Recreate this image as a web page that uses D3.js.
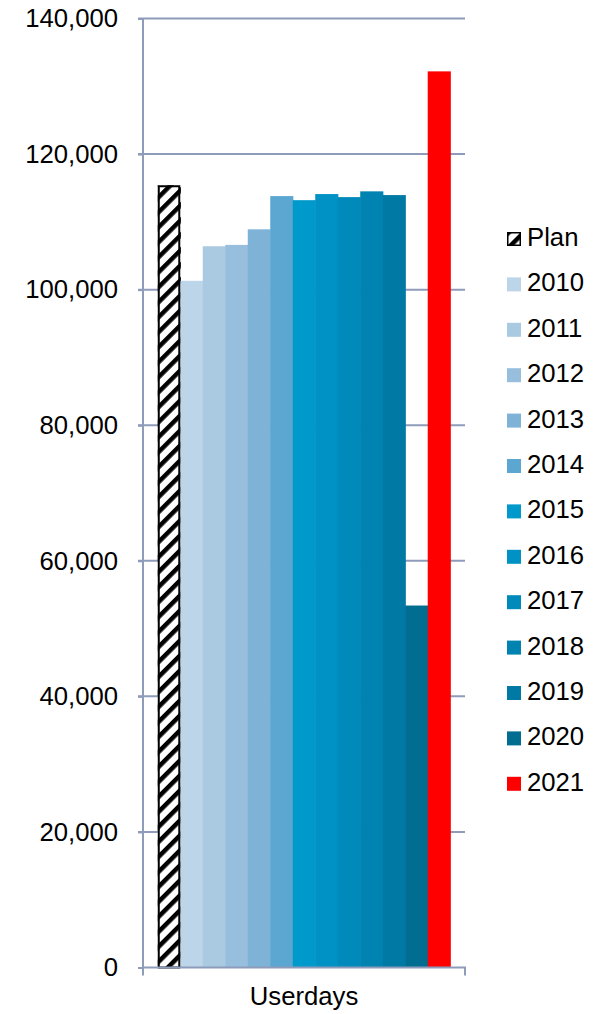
<!DOCTYPE html>
<html><head><meta charset="utf-8">
<script src="https://cdn.jsdelivr.net/npm/d3@7"></script>
<style>body{margin:0;background:#fff}svg{display:block}</style>
</head><body>
<script>
const categories = ["Userdays"];
const series = ["Plan","2010","2011","2012","2013","2014","2015","2016","2017","2018","2019","2020","2021"];
const values = [115400,101300,106400,106600,108900,113800,113200,114100,113650,114500,113950,53400,132200];
const colors = ["url(#hatch)","#BDD5E9","#AACAE2","#97BEDD","#7EB2D7","#5CA7D2","#0099CC","#0092C4","#008ABB","#0083B1","#0079A4","#006D91","#FF0000"];
const yTicks = [0,20000,40000,60000,80000,100000,120000,140000];

const W = 602, H = 1014;
const m = {left:143, right:465, top:18.5, bottom:967.5};
const FONT = "Liberation Sans, Arial, sans-serif", FS = 25.7;
const svg = d3.select("body").append("svg").attr("width",W).attr("height",H);
const defs = svg.append("defs");
const pat = defs.append("pattern").attr("id","hatch").attr("patternUnits","userSpaceOnUse")
  .attr("width",10.6).attr("height",10.6).attr("patternTransform","rotate(45)");
pat.append("rect").attr("width",10.6).attr("height",10.6).attr("fill","#fff");
pat.append("rect").attr("x",0).attr("width",4.5).attr("height",10.6).attr("fill","#000");

const y = d3.scaleLinear().domain([0,140000]).range([m.bottom,m.top]);
const x0 = d3.scaleBand().domain(categories).range([m.left,m.right]).paddingInner(0).paddingOuter(0.0505);
const x1 = d3.scaleBand().domain(series).range([0,x0.bandwidth()]);

const gridC = "#8E9BBA";
svg.append("g").selectAll("line").data(yTicks.filter(d=>d>0)).join("line")
  .attr("x1",m.left-5).attr("x2",m.right).attr("y1",d=>y(d)).attr("y2",d=>y(d))
  .attr("stroke",gridC).attr("stroke-width",2);

const g = svg.append("g").attr("transform",`translate(${x0("Userdays")},0)`);
g.selectAll("rect").data(series.map((s,i)=>({s,v:values[i],c:colors[i]}))).join("rect")
  .attr("x",d=>x1(d.s)).attr("width",x1.bandwidth()+0.6)
  .attr("y",d=>y(d.v)).attr("height",d=>y(0)-y(d.v))
  .attr("fill",d=>d.c);
g.append("rect").attr("x",x1("Plan")+1).attr("width",x1.bandwidth()-2)
  .attr("y",y(values[0])+1).attr("height",y(0)-y(values[0])-1)
  .attr("fill","none").attr("stroke","#000").attr("stroke-width",2);

const ya = svg.append("g").attr("transform",`translate(${m.left},0)`)
  .call(d3.axisLeft(y).tickValues(yTicks).tickSize(5).tickFormat(d3.format(",")));
ya.select(".domain").attr("stroke",gridC).attr("stroke-width",2).attr("d",`M0,${m.top}V${m.bottom}`);
ya.selectAll(".tick line").attr("stroke",gridC).attr("stroke-width",2);
ya.selectAll(".tick text").attr("x",-25).attr("font-family",FONT).attr("font-size",FS).attr("fill","#000");

const xa = svg.append("g").attr("transform",`translate(0,${m.bottom})`)
  .call(d3.axisBottom(x0).tickSize(0));
xa.select(".domain").attr("stroke",gridC).attr("stroke-width",2).attr("d",`M${m.left},8V0H${m.right}V8`);
xa.selectAll(".tick text").attr("dy",0).attr("y",37).attr("font-family",FONT).attr("font-size",FS).attr("fill","#000");

const lg = svg.append("g").selectAll("g").data(series.map((s,i)=>({s,c:colors[i]}))).join("g")
  .attr("transform",(d,i)=>`translate(507,${246 + i*45.4})`);
lg.append("rect").attr("x",0).attr("y",-14).attr("width",14).attr("height",14).attr("fill",d=>d.c);
lg.filter(d=>d.s==="Plan").append("rect").attr("x",0.75).attr("y",-13.25).attr("width",12.5).attr("height",12.5)
  .attr("fill","none").attr("stroke","#000").attr("stroke-width",1.5);
lg.append("text").attr("x",20).attr("y",0).text(d=>d.s)
  .attr("font-family",FONT).attr("font-size",FS).attr("fill","#000");
</script>
</body></html>
